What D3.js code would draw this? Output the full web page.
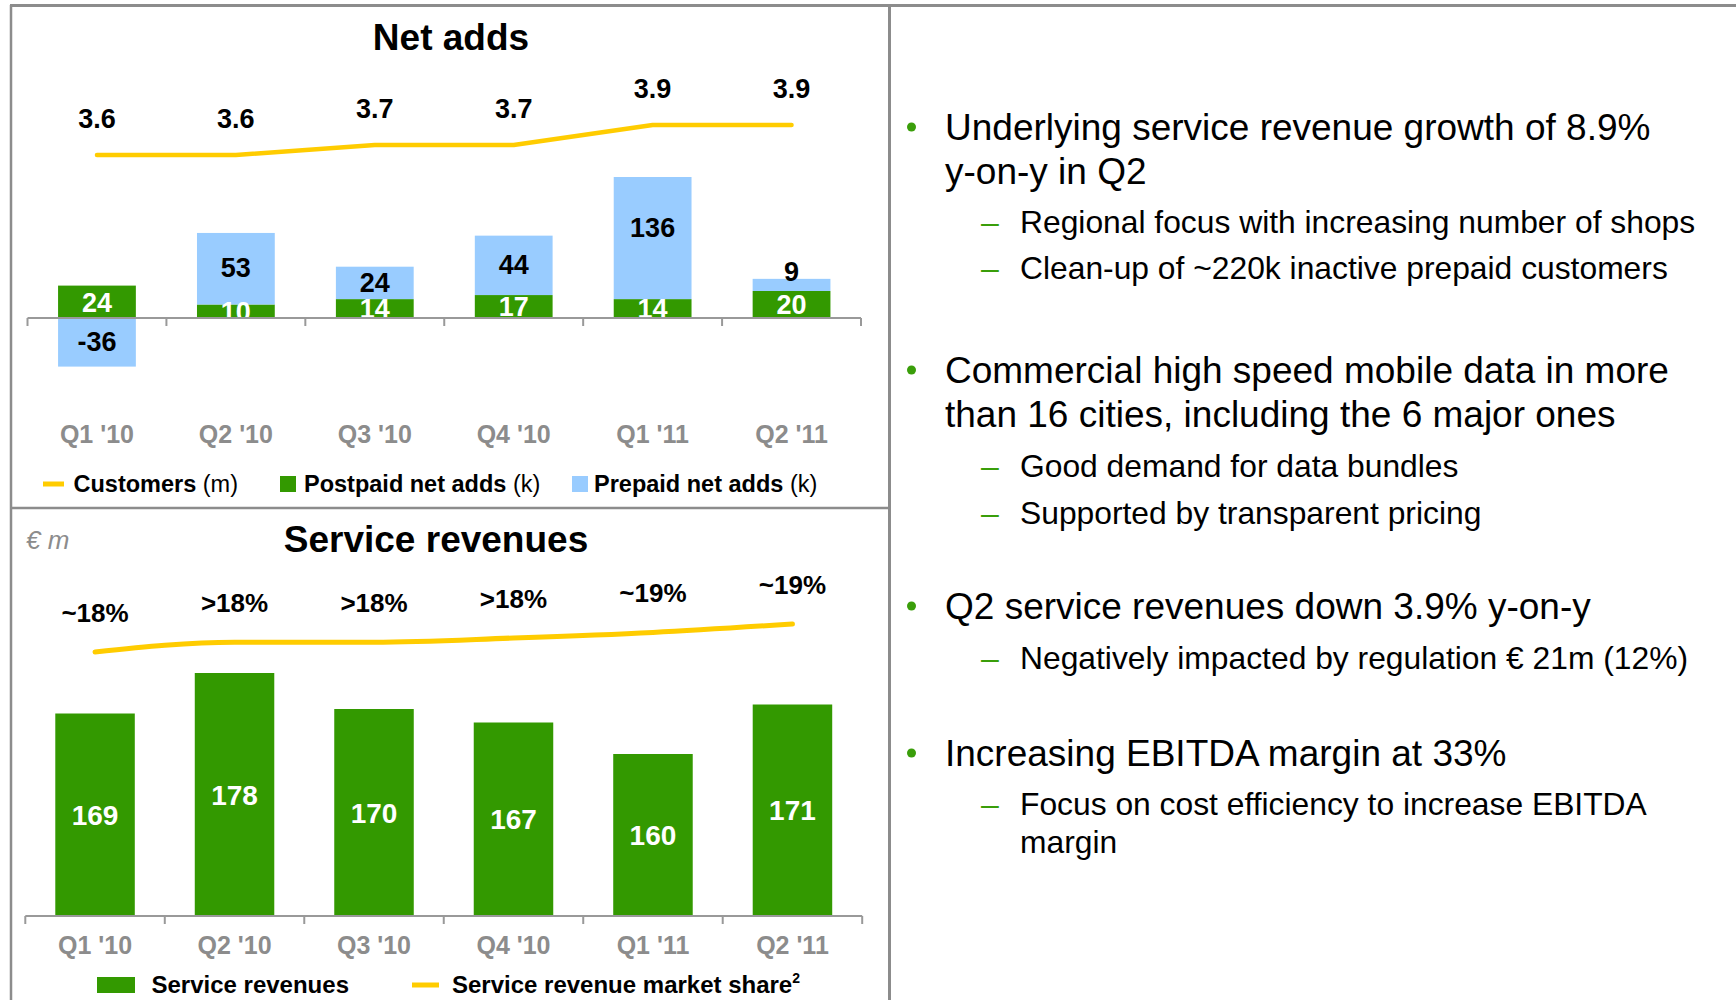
<!DOCTYPE html>
<html>
<head>
<meta charset="utf-8">
<script src="https://cdn.jsdelivr.net/npm/d3@7"></script>
<style>
  body { margin: 0; background: #fff; }
  text { font-family: "Liberation Sans", Arial, sans-serif; }
</style>
</head>
<body>
<div id="chart"></div>
<script>
// data
const quarters = ["Q1 '10", "Q2 '10", "Q3 '10", "Q4 '10", "Q1 '11", "Q2 '11"];
const postpaid = [24, 10, 14, 17, 14, 20];
const prepaid = [-36, 53, 24, 44, 136, 9];
const customers = [3.6, 3.6, 3.7, 3.7, 3.9, 3.9];
const revenues = [169, 178, 170, 167, 160, 171];
const shareValues = [18.0, 18.35, 18.35, 18.5, 18.7, 19.0];
const shareLabels = ["~18%", ">18%", ">18%", ">18%", "~19%", "~19%"];

const bullets = [
  { main: ["Underlying service revenue growth of 8.9%", "y-on-y in Q2"],
    subs: [["Regional focus with increasing number of shops"], ["Clean-up of ~220k inactive prepaid customers"]] },
  { main: ["Commercial high speed mobile data in more", "than 16 cities, including the 6 major ones"],
    subs: [["Good demand for data bundles"], ["Supported by transparent pricing"]] },
  { main: ["Q2 service revenues down 3.9% y-on-y"],
    subs: [["Negatively impacted by regulation € 21m (12%)"]] },
  { main: ["Increasing EBITDA margin at 33%"],
    subs: [["Focus on cost efficiency to increase EBITDA", "margin"]] }
];

const green = "#339900";
const blue = "#99ccff";
const yellow = "#ffcc00";
const grey = "#8c8c8c";

const width = 1736, height = 1000;
const svg = d3.select("#chart").append("svg")
  .attr("width", width)
  .attr("height", height);

// frame lines
const frame = svg.append("g").attr("stroke", grey).attr("fill", "none");
frame.append("line").attr("x1", 10).attr("x2", width).attr("y1", 5.5).attr("y2", 5.5).attr("stroke-width", 3);
frame.append("line").attr("x1", 11).attr("x2", 11).attr("y1", 5).attr("y2", height).attr("stroke-width", 2.5);
frame.append("line").attr("x1", 889.5).attr("x2", 889.5).attr("y1", 5).attr("y2", height).attr("stroke-width", 3);
frame.append("line").attr("x1", 11).attr("x2", 889).attr("y1", 508).attr("y2", 508).attr("stroke-width", 2.5);

// ---------- Net adds ----------
const netG = svg.append("g");
netG.append("text")
  .attr("x", 451).attr("y", 50)
  .attr("text-anchor", "middle")
  .attr("font-size", 37).attr("font-weight", "bold")
  .text("Net adds");

const x1 = d3.scaleBand().domain(quarters).range([27.5, 861])
  .paddingInner(0.44).paddingOuter(0.22);
// the 136 bar is drawn shortened in the original, so the top part is squeezed
const yNet = d3.scaleLinear().domain([-50, 0, 70, 150]).range([385.5, 318, 223.5, 177]);
const yCust = d3.scaleLinear().domain([3.6, 3.9]).range([155, 125]);

const netRows = quarters.map((q, i) => ({ q: q, post: postpaid[i], pre: prepaid[i] }));

// postpaid
netG.selectAll(".post").data(netRows).enter().append("rect")
  .attr("class", "post")
  .attr("x", d => x1(d.q))
  .attr("width", x1.bandwidth())
  .attr("y", d => yNet(d.post))
  .attr("height", d => yNet(0) - yNet(d.post))
  .attr("fill", green);

// prepaid (stacked on postpaid when positive, below zero when negative)
const preTop = d => d.pre >= 0 ? d.post + d.pre : 0;
const preBot = d => d.pre >= 0 ? d.post : d.pre;
netG.selectAll(".pre").data(netRows).enter().append("rect")
  .attr("class", "pre")
  .attr("x", d => x1(d.q))
  .attr("width", x1.bandwidth())
  .attr("y", d => yNet(preTop(d)))
  .attr("height", d => yNet(preBot(d)) - yNet(preTop(d)))
  .attr("fill", blue);

netG.selectAll(".postLbl").data(netRows).enter().append("text")
  .attr("x", d => x1(d.q) + x1.bandwidth() / 2)
  .attr("y", d => (yNet(d.post) + yNet(0)) / 2)
  .attr("dy", "0.36em")
  .attr("text-anchor", "middle")
  .attr("font-size", 27).attr("font-weight", "bold")
  .attr("fill", "#fff")
  .text(d => d.post);

netG.selectAll(".preLbl").data(netRows).enter().append("text")
  .attr("x", d => x1(d.q) + x1.bandwidth() / 2)
  .attr("y", d => {
    const a = yNet(preTop(d)), b = yNet(preBot(d));
    if (b - a < 20) return a - 8;
    return Math.min((a + b) / 2, a + 51) - 1;
  })
  .attr("dy", "0.36em")
  .attr("text-anchor", "middle")
  .attr("font-size", 27).attr("font-weight", "bold")
  .attr("fill", "#000")
  .text(d => d.pre);

// axis with ticks on the band edges
const ax1 = netG.append("g").attr("stroke", "#999").attr("stroke-width", 2);
ax1.append("line").attr("x1", x1.range()[0]).attr("x2", x1.range()[1])
  .attr("y1", yNet(0)).attr("y2", yNet(0));
ax1.selectAll(".tk").data(d3.range(quarters.length + 1)).enter().append("line")
  .attr("x1", i => x1.range()[0] + i * x1.step())
  .attr("x2", i => x1.range()[0] + i * x1.step())
  .attr("y1", yNet(0)).attr("y2", yNet(0) + 8);

netG.append("g")
  .attr("transform", "translate(0,443)")
  .call(d3.axisBottom(x1).tickSize(0).tickPadding(0))
  .call(g => g.select(".domain").remove())
  .call(g => g.selectAll("text")
    .attr("dy", 0)
    .attr("font-family", "Liberation Sans, Arial, sans-serif")
    .attr("font-size", 25).attr("font-weight", "bold")
    .attr("fill", grey));

// customers line
const custLine = d3.line()
  .x((d, i) => x1(quarters[i]) + x1.bandwidth() / 2)
  .y(d => yCust(d));
netG.append("path")
  .datum(customers)
  .attr("d", custLine)
  .attr("fill", "none")
  .attr("stroke", yellow)
  .attr("stroke-width", 4.5)
  .attr("stroke-linecap", "round")
  .attr("stroke-linejoin", "round");

netG.selectAll(".custLbl").data(customers).enter().append("text")
  .attr("x", (d, i) => x1(quarters[i]) + x1.bandwidth() / 2)
  .attr("y", d => yCust(d) - 27)
  .attr("text-anchor", "middle")
  .attr("font-size", 27).attr("font-weight", "bold")
  .text(d => d.toFixed(1));

// legend
const lg1 = netG.append("g").attr("font-size", 23.5);
lg1.append("line").attr("x1", 43).attr("x2", 64).attr("y1", 484).attr("y2", 484)
  .attr("stroke", yellow).attr("stroke-width", 5);
const t1 = lg1.append("text").attr("x", 73.5).attr("y", 492);
t1.append("tspan").attr("font-weight", "bold").text("Customers");
t1.append("tspan").text(" (m)");
lg1.append("rect").attr("x", 280).attr("y", 476).attr("width", 16).attr("height", 16).attr("fill", green);
const t2 = lg1.append("text").attr("x", 304).attr("y", 492);
t2.append("tspan").attr("font-weight", "bold").text("Postpaid net adds");
t2.append("tspan").text(" (k)");
lg1.append("rect").attr("x", 572).attr("y", 476).attr("width", 16).attr("height", 16).attr("fill", blue);
const t3 = lg1.append("text").attr("x", 594).attr("y", 492);
t3.append("tspan").attr("font-weight", "bold").text("Prepaid net adds");
t3.append("tspan").text(" (k)");

// ---------- Service revenues ----------
const revG = svg.append("g");
revG.append("text")
  .attr("x", 26).attr("y", 549)
  .attr("font-size", 26).attr("font-style", "italic")
  .attr("fill", grey)
  .text("€ m");
revG.append("text")
  .attr("x", 436).attr("y", 552)
  .attr("text-anchor", "middle")
  .attr("font-size", 37).attr("font-weight", "bold")
  .text("Service revenues");

const x2 = d3.scaleBand().domain(quarters).range([25.3, 862.2])
  .paddingInner(0.43).paddingOuter(0.215);
const yRev = d3.scaleLinear().domain([124, 180]).range([916, 664]);
const yShare = d3.scaleLinear().domain([18, 19]).range([652, 624]);

revG.selectAll(".rev").data(revenues).enter().append("rect")
  .attr("x", (d, i) => x2(quarters[i]))
  .attr("width", x2.bandwidth())
  .attr("y", d => yRev(d))
  .attr("height", d => yRev.range()[0] - yRev(d))
  .attr("fill", green);

revG.selectAll(".revLbl").data(revenues).enter().append("text")
  .attr("x", (d, i) => x2(quarters[i]) + x2.bandwidth() / 2)
  .attr("y", d => (yRev(d) + yRev.range()[0]) / 2)
  .attr("dy", "0.36em")
  .attr("text-anchor", "middle")
  .attr("font-size", 28).attr("font-weight", "bold")
  .attr("fill", "#fff")
  .text(d => d);

const ax2 = revG.append("g").attr("stroke", "#999").attr("stroke-width", 2);
ax2.append("line").attr("x1", x2.range()[0]).attr("x2", x2.range()[1])
  .attr("y1", 916).attr("y2", 916);
ax2.selectAll(".tk").data(d3.range(quarters.length + 1)).enter().append("line")
  .attr("x1", i => x2.range()[0] + i * x2.step())
  .attr("x2", i => x2.range()[0] + i * x2.step())
  .attr("y1", 916).attr("y2", 924);

revG.append("g")
  .attr("transform", "translate(0,954)")
  .call(d3.axisBottom(x2).tickSize(0).tickPadding(0))
  .call(g => g.select(".domain").remove())
  .call(g => g.selectAll("text")
    .attr("dy", 0)
    .attr("font-family", "Liberation Sans, Arial, sans-serif")
    .attr("font-size", 25).attr("font-weight", "bold")
    .attr("fill", grey));

const shareLine = d3.line()
  .x((d, i) => x2(quarters[i]) + x2.bandwidth() / 2)
  .y(d => yShare(d))
  .curve(d3.curveMonotoneX);
revG.append("path")
  .datum(shareValues)
  .attr("d", shareLine)
  .attr("fill", "none")
  .attr("stroke", yellow)
  .attr("stroke-width", 5)
  .attr("stroke-linecap", "round");

revG.selectAll(".shareLbl").data(shareValues).enter().append("text")
  .attr("x", (d, i) => x2(quarters[i]) + x2.bandwidth() / 2)
  .attr("y", d => yShare(d) - 30)
  .attr("text-anchor", "middle")
  .attr("font-size", 26).attr("font-weight", "bold")
  .text((d, i) => shareLabels[i]);

const lg2 = revG.append("g").attr("font-size", 24).attr("font-weight", "bold");
lg2.append("rect").attr("x", 97).attr("y", 977).attr("width", 38).attr("height", 16).attr("fill", green);
lg2.append("text").attr("x", 151.5).attr("y", 993).text("Service revenues");
lg2.append("line").attr("x1", 412).attr("x2", 439).attr("y1", 985).attr("y2", 985)
  .attr("stroke", yellow).attr("stroke-width", 5);
const t4 = lg2.append("text").attr("x", 452).attr("y", 993);
t4.append("tspan").text("Service revenue market share");
t4.append("tspan").attr("font-size", 14).attr("dy", -10).text("2");

// ---------- bullet text ----------
const txt = svg.append("g");
const mainBase = [140, 383, 619, 766];
const subBase = [[233, 279], [477, 524], [669], [815]];
bullets.forEach((b, bi) => {
  const y0 = mainBase[bi];
  txt.append("circle").attr("cx", 911.5).attr("cy", y0 - 13).attr("r", 4.5).attr("fill", "#3a9e0a");
  b.main.forEach((line, li) => {
    txt.append("text").attr("x", 945).attr("y", y0 + li * 44)
      .attr("font-size", 37).text(line);
  });
  b.subs.forEach((sub, si) => {
    const ys = subBase[bi][si];
    txt.append("text").attr("x", 981).attr("y", ys)
      .attr("font-size", 32).attr("fill", "#3a9e0a").text("–");
    sub.forEach((line, li) => {
      txt.append("text").attr("x", 1020).attr("y", ys + li * 38)
        .attr("font-size", 31.8).text(line);
    });
  });
});
</script>
</body>
</html>
